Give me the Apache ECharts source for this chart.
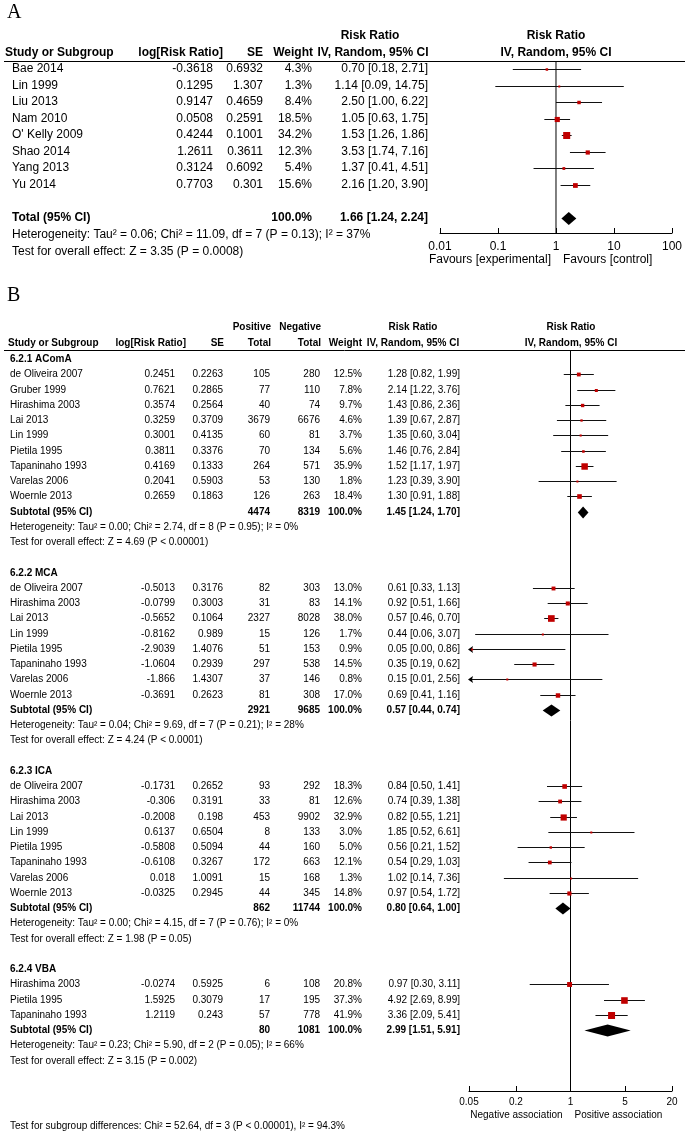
<!DOCTYPE html>
<html><head><meta charset="utf-8">
<script src="https://cdn.jsdelivr.net/npm/echarts/dist/echarts.min.js"></script>
<style>html,body{margin:0;padding:0;background:#fff}#c{width:685px;height:1133px}</style>
</head><body><div id="c"></div>
<script>
// ---------------- Panel A data ----------------
const studiesA = ['Bae 2014','Lin 1999','Liu 2013','Nam 2010',"O' Kelly 2009",'Shao 2014','Yang 2013','Yu 2014'];
const logRRA = [-0.3618,0.1295,0.9147,0.0508,0.4244,1.2611,0.3124,0.7703];
const seA = [0.6932,1.307,0.4659,0.2591,0.1001,0.3611,0.6092,0.301];
const weightA = [4.3,1.3,8.4,18.5,34.2,12.3,5.4,15.6];
const rrA = [0.70,1.14,2.50,1.05,1.53,3.53,1.37,2.16];
const lowA = [0.18,0.09,1.00,0.63,1.26,1.74,0.41,1.20];
const highA = [2.71,14.75,6.22,1.75,1.86,7.16,4.51,3.90];
const totalA = [1.66,1.24,2.24];
const totalWeightA = 100.0;
const statsA = ['Heterogeneity: Tau\u00b2 = 0.06; Chi\u00b2 = 11.09, df = 7 (P = 0.13); I\u00b2 = 37%','Test for overall effect: Z = 3.35 (P = 0.0008)'];
const ticksA = [0.01,0.1,1,10,100];
const favoursA = ['Favours [experimental]','Favours [control]'];

// ---------------- Panel B data ----------------
const groupNames = ['6.2.1 AComA','6.2.2 MCA','6.2.3 ICA','6.2.4 VBA'];

const acomaStudies = ['de Oliveira 2007','Gruber 1999','Hirashima 2003','Lai 2013','Lin 1999','Pietila 1995','Tapaninaho 1993','Varelas 2006','Woernle 2013'];
const acomaLogRR = [0.2451,0.7621,0.3574,0.3259,0.3001,0.3811,0.4169,0.2041,0.2659];
const acomaSE = [0.2263,0.2865,0.2564,0.3709,0.4135,0.3376,0.1333,0.5903,0.1863];
const acomaPos = [105,77,40,3679,60,70,264,53,126];
const acomaNeg = [280,110,74,6676,81,134,571,130,263];
const acomaWeight = [12.5,7.8,9.7,4.6,3.7,5.6,35.9,1.8,18.4];
const acomaRR = [1.28,2.14,1.43,1.39,1.35,1.46,1.52,1.23,1.30];
const acomaLow = [0.82,1.22,0.86,0.67,0.60,0.76,1.17,0.39,0.91];
const acomaHigh = [1.99,3.76,2.36,2.87,3.04,2.84,1.97,3.90,1.88];

const mcaStudies = ['de Oliveira 2007','Hirashima 2003','Lai 2013','Lin 1999','Pietila 1995','Tapaninaho 1993','Varelas 2006','Woernle 2013'];
const mcaLogRR = [-0.5013,-0.0799,-0.5652,-0.8162,-2.9039,-1.0604,-1.866,-0.3691];
const mcaSE = [0.3176,0.3003,0.1064,0.989,1.4076,0.2939,1.4307,0.2623];
const mcaPos = [82,31,2327,15,51,297,37,81];
const mcaNeg = [303,83,8028,126,153,538,146,308];
const mcaWeight = [13.0,14.1,38.0,1.7,0.9,14.5,0.8,17.0];
const mcaRR = [0.61,0.92,0.57,0.44,0.05,0.35,0.15,0.69];
const mcaLow = [0.33,0.51,0.46,0.06,0.00,0.19,0.01,0.41];
const mcaHigh = [1.13,1.66,0.70,3.07,0.86,0.62,2.56,1.16];

const icaStudies = ['de Oliveira 2007','Hirashima 2003','Lai 2013','Lin 1999','Pietila 1995','Tapaninaho 1993','Varelas 2006','Woernle 2013'];
const icaLogRR = [-0.1731,-0.306,-0.2008,0.6137,-0.5808,-0.6108,0.018,-0.0325];
const icaSE = [0.2652,0.3191,0.198,0.6504,0.5094,0.3267,1.0091,0.2945];
const icaPos = [93,33,453,8,44,172,15,44];
const icaNeg = [292,81,9902,133,160,663,168,345];
const icaWeight = [18.3,12.6,32.9,3.0,5.0,12.1,1.3,14.8];
const icaRR = [0.84,0.74,0.82,1.85,0.56,0.54,1.02,0.97];
const icaLow = [0.50,0.39,0.55,0.52,0.21,0.29,0.14,0.54];
const icaHigh = [1.41,1.38,1.21,6.61,1.52,1.03,7.36,1.72];

const vbaStudies = ['Hirashima 2003','Pietila 1995','Tapaninaho 1993'];
const vbaLogRR = [-0.0274,1.5925,1.2119];
const vbaSE = [0.5925,0.3079,0.243];
const vbaPos = [6,17,57];
const vbaNeg = [108,195,778];
const vbaWeight = [20.8,37.3,41.9];
const vbaRR = [0.97,4.92,3.36];
const vbaLow = [0.30,2.69,2.09];
const vbaHigh = [3.11,8.99,5.41];

const subPos = [4474,2921,862,80];
const subNeg = [8319,9685,11744,1081];
const subRR = [1.45,0.57,0.80,2.99];
const subLow = [1.24,0.44,0.64,1.51];
const subHigh = [1.70,0.74,1.00,5.91];
const hetB = [
  'Heterogeneity: Tau\u00b2 = 0.00; Chi\u00b2 = 2.74, df = 8 (P = 0.95); I\u00b2 = 0%',
  'Heterogeneity: Tau\u00b2 = 0.04; Chi\u00b2 = 9.69, df = 7 (P = 0.21); I\u00b2 = 28%',
  'Heterogeneity: Tau\u00b2 = 0.00; Chi\u00b2 = 4.15, df = 7 (P = 0.76); I\u00b2 = 0%',
  'Heterogeneity: Tau\u00b2 = 0.23; Chi\u00b2 = 5.90, df = 2 (P = 0.05); I\u00b2 = 66%'];
const testB = ['Test for overall effect: Z = 4.69 (P < 0.00001)','Test for overall effect: Z = 4.24 (P < 0.0001)',
  'Test for overall effect: Z = 1.98 (P = 0.05)','Test for overall effect: Z = 3.15 (P = 0.002)'];
const subgroupDiff = 'Test for subgroup differences: Chi\u00b2 = 52.64, df = 3 (P < 0.00001), I\u00b2 = 94.3%';
const ticksB = [0.05,0.2,1,5,20];
const assocB = ['Negative association','Positive association'];

// ---------------- layout ----------------
const FONT = '"Liberation Sans", Arial, sans-serif';
const RED = '#C00000';
const A_ROW0 = 69, A_ROWH = 16.5;
const B_ROW0 = 359, B_ROWH = 15.25;
const fA = {left:440, width:232, top:61, bottom:233};
const fB = {left:469, width:203, top:350, bottom:1091};
const fAcenter = fA.left + fA.width/2, fBcenter = fB.left + fB.width/2;

const fmt2 = v => v.toFixed(2);
const ci = (r,l,h) => fmt2(r)+' ['+fmt2(l)+', '+fmt2(h)+']';
const pct = w => w.toFixed(1)+'%';

// ---- Panel A text items ----
const textA = [];
textA.push({x:370,row:-2,t:'Risk Ratio',a:'center',b:1});
textA.push({x:fAcenter,row:-2,t:'Risk Ratio',a:'center',b:1});
textA.push({x:5,row:-1,t:'Study or Subgroup',a:'left',b:1});
textA.push({x:223,row:-1,t:'log[Risk Ratio]',a:'right',b:1});
textA.push({x:263,row:-1,t:'SE',a:'right',b:1});
textA.push({x:313,row:-1,t:'Weight',a:'right',b:1});
textA.push({x:373,row:-1,t:'IV, Random, 95% CI',a:'center',b:1});
textA.push({x:fAcenter,row:-1,t:'IV, Random, 95% CI',a:'center',b:1});
studiesA.forEach((s,i)=>{
  textA.push({x:12,row:i,t:s,a:'left'});
  textA.push({x:213,row:i,t:String(logRRA[i]),a:'right'});
  textA.push({x:263,row:i,t:String(seA[i]),a:'right'});
  textA.push({x:312,row:i,t:pct(weightA[i]),a:'right'});
  textA.push({x:428,row:i,t:ci(rrA[i],lowA[i],highA[i]),a:'right'});
});
const totRowA = studiesA.length + 1;
textA.push({x:12,row:totRowA,t:'Total (95% CI)',a:'left',b:1});
textA.push({x:312,row:totRowA,t:pct(totalWeightA),a:'right',b:1});
textA.push({x:428,row:totRowA,t:ci(totalA[0],totalA[1],totalA[2]),a:'right',b:1});
textA.push({x:12,row:totRowA+1.05,t:statsA[0],a:'left'});
textA.push({x:12,row:totRowA+2.1,t:statsA[1],a:'left'});

// forest items A
const forA = studiesA.map((s,i)=>({row:i, est:logRRA[i]/Math.LN10, lo:Math.log10(lowA[i]), hi:Math.log10(highA[i]), w:weightA[i], d:0}));
forA.push({row:totRowA, est:Math.log10(totalA[0]), lo:Math.log10(totalA[1]), hi:Math.log10(totalA[2]), w:0, d:1});

// ---- Panel B ----
const groups = [
  {s:acomaStudies,l:acomaLogRR,se:acomaSE,p:acomaPos,n:acomaNeg,w:acomaWeight,r:acomaRR,lo:acomaLow,hi:acomaHigh},
  {s:mcaStudies,l:mcaLogRR,se:mcaSE,p:mcaPos,n:mcaNeg,w:mcaWeight,r:mcaRR,lo:mcaLow,hi:mcaHigh},
  {s:icaStudies,l:icaLogRR,se:icaSE,p:icaPos,n:icaNeg,w:icaWeight,r:icaRR,lo:icaLow,hi:icaHigh},
  {s:vbaStudies,l:vbaLogRR,se:vbaSE,p:vbaPos,n:vbaNeg,w:vbaWeight,r:vbaRR,lo:vbaLow,hi:vbaHigh}
];
const textB = [];
const h1 = -2.1, h2 = -1.05;
textB.push({x:271,row:h1,t:'Positive',a:'right',b:1});
textB.push({x:321,row:h1,t:'Negative',a:'right',b:1});
textB.push({x:413,row:h1,t:'Risk Ratio',a:'center',b:1});
textB.push({x:fBcenter,row:h1,t:'Risk Ratio',a:'center',b:1});
textB.push({x:8,row:h2,t:'Study or Subgroup',a:'left',b:1});
textB.push({x:186,row:h2,t:'log[Risk Ratio]',a:'right',b:1});
textB.push({x:224,row:h2,t:'SE',a:'right',b:1});
textB.push({x:271,row:h2,t:'Total',a:'right',b:1});
textB.push({x:321,row:h2,t:'Total',a:'right',b:1});
textB.push({x:362,row:h2,t:'Weight',a:'right',b:1});
textB.push({x:413,row:h2,t:'IV, Random, 95% CI',a:'center',b:1});
textB.push({x:fBcenter,row:h2,t:'IV, Random, 95% CI',a:'center',b:1});
const forB = [];
let r = 0;
groups.forEach((g,gi)=>{
  textB.push({x:10,row:r,t:groupNames[gi],a:'left',b:1});
  g.s.forEach((s,i)=>{
    const rr = r+1+i;
    textB.push({x:10,row:rr,t:s,a:'left'});
    textB.push({x:175,row:rr,t:String(g.l[i]),a:'right'});
    textB.push({x:223,row:rr,t:String(g.se[i]),a:'right'});
    textB.push({x:270,row:rr,t:String(g.p[i]),a:'right'});
    textB.push({x:320,row:rr,t:String(g.n[i]),a:'right'});
    textB.push({x:362,row:rr,t:pct(g.w[i]),a:'right'});
    textB.push({x:460,row:rr,t:ci(g.r[i],g.lo[i],g.hi[i]),a:'right'});
    forB.push({row:rr, est:g.l[i]/Math.LN10, lo:g.lo[i]>0?Math.log10(g.lo[i]):-99, hi:Math.log10(g.hi[i]), w:g.w[i], d:0});
  });
  const sr = r+g.s.length+1;
  textB.push({x:10,row:sr,t:'Subtotal (95% CI)',a:'left',b:1});
  textB.push({x:270,row:sr,t:String(subPos[gi]),a:'right',b:1});
  textB.push({x:320,row:sr,t:String(subNeg[gi]),a:'right',b:1});
  textB.push({x:362,row:sr,t:pct(100),a:'right',b:1});
  textB.push({x:460,row:sr,t:ci(subRR[gi],subLow[gi],subHigh[gi]),a:'right',b:1});
  forB.push({row:sr, est:Math.log10(subRR[gi]), lo:Math.log10(subLow[gi]), hi:Math.log10(subHigh[gi]), w:0, d:1});
  textB.push({x:10,row:sr+1,t:hetB[gi],a:'left'});
  textB.push({x:10,row:sr+2,t:testB[gi],a:'left'});
  r += g.s.length + 5;
});
textB.push({x:10,row:50.3,t:subgroupDiff,a:'left'});

// ---------------- series builders ----------------
function textSeries(gi, items, size) {
  return {type:'custom', xAxisIndex:gi, yAxisIndex:gi, silent:true, clip:false, z:5,
    data: items.map((it,i)=>[it.x,it.row,i]), encode:{x:0,y:1},
    renderItem:(params, api)=>{
      const it = items[api.value(2)];
      const p = api.coord([api.value(0), api.value(1)]);
      return {type:'text', x:Math.round(p[0]), y:Math.round(p[1]),
        style:{text:it.t, fill:'#000', font:(it.b?'bold ':'')+size+'px '+FONT, align:it.a, verticalAlign:'middle'}};
    }};
}
function forestSeries(gi, items, k, xmin, xmax, dh) {
  return {type:'custom', xAxisIndex:gi, yAxisIndex:gi, silent:true, clip:false, z:4,
    data: items.map(it=>[it.est, it.row, it.lo, it.hi, it.w, it.d]), encode:{x:0,y:1},
    renderItem:(params, api)=>{
      const est=api.value(0), row=api.value(1), lo=api.value(2), hi=api.value(3), w=api.value(4), d=api.value(5);
      const c = api.coord([est,row]);
      const y = Math.round(c[1]) + 0.5;
      const l = api.coord([Math.max(lo,xmin),row])[0];
      const h = api.coord([Math.min(hi,xmax),row])[0];
      if (d) {
        return {type:'polygon', shape:{points:[[l,y],[c[0],y-dh],[h,y],[c[0],y+dh]]}, style:{fill:'#000'}};
      }
      const ch = [{type:'line', shape:{x1:l,y1:y,x2:h,y2:y}, style:{stroke:'#111',lineWidth:1}}];
      if (lo < xmin) ch.push({type:'polygon', shape:{points:[[l-1,y],[l+4,y-3.5],[l+3,y],[l+4,y+3.5]]}, style:{fill:'#000'}});
      if (hi > xmax) ch.push({type:'polygon', shape:{points:[[h+1,y],[h-4,y-3.5],[h-3,y],[h-4,y+3.5]]}, style:{fill:'#000'}});
      const s = Math.max(2, k*Math.sqrt(w));
      ch.push({type:'rect', shape:{x:c[0]-s/2, y:y-s/2, width:s, height:s}, style:{fill:RED}});
      return {type:'group', children:ch};
    }};
}
function labelSeries(gi, texts, yv, dy, gap, size) {
  return {type:'custom', xAxisIndex:gi, yAxisIndex:gi, silent:true, clip:false,
    data:[[0,yv]], encode:{x:0,y:1},
    renderItem:(params, api)=>{
      const p = api.coord([0, yv]);
      return {type:'group', children:[
        {type:'text', x:p[0]-gap[0], y:p[1]+dy, style:{text:texts[0], fill:'#000', font:size+'px '+FONT, align:'right', verticalAlign:'middle'}},
        {type:'text', x:p[0]+gap[1], y:p[1]+dy, style:{text:texts[1], fill:'#000', font:size+'px '+FONT, align:'left', verticalAlign:'middle'}}
      ]};
    }};
}
function forestXAxis(gi, ticks, size, margin) {
  const lv = ticks.map(Math.log10);
  return {gridIndex:gi, type:'value', min:lv[0], max:lv[lv.length-1], position:'bottom',
    axisLine:{show:true, onZero:false, lineStyle:{color:'#000', width:1}},
    axisTick:{show:true, inside:true, length:5, customValues:lv, lineStyle:{color:'#000', width:1}},
    axisLabel:{show:true, customValues:lv, color:'#000', fontSize:size, fontFamily:FONT, margin:margin,
      formatter:v=>{let b=0;lv.forEach((t,i)=>{if(Math.abs(t-v)<Math.abs(lv[b]-v))b=i;});return String(ticks[b]);}},
    splitLine:{show:false}};
}
const hideX = gi => ({gridIndex:gi, type:'value', min:0, max:685, show:false});
const hideY = (gi,mn,mx) => ({gridIndex:gi, type:'value', min:mn, max:mx, inverse:true, show:false});

const yAmin = -3, yAmax = 12;
const yFAmin = (fA.top-A_ROW0)/A_ROWH, yFAmax = (fA.bottom-A_ROW0)/A_ROWH;
const yBmin = -3, yBmax = 50.6;
const yFBmin = (fB.top-B_ROW0)/B_ROWH, yFBmax = (fB.bottom-B_ROW0)/B_ROWH;

const option = {
  animation:false,
  backgroundColor:'#fff',
  grid:[
    {left:0, width:685, top:A_ROW0+yAmin*A_ROWH, height:(yAmax-yAmin)*A_ROWH},
    {left:fA.left, width:fA.width, top:fA.top, height:fA.bottom-fA.top},
    {left:0, width:685, top:B_ROW0+yBmin*B_ROWH, height:(yBmax-yBmin)*B_ROWH},
    {left:fB.left, width:fB.width, top:fB.top, height:fB.bottom-fB.top}
  ],
  xAxis:[hideX(0), forestXAxis(1, ticksA, 12, 8), hideX(2), forestXAxis(3, ticksB, 10, 6)],
  yAxis:[hideY(0,yAmin,yAmax), hideY(1,yFAmin,yFAmax), hideY(2,yBmin,yBmax), hideY(3,yFBmin,yFBmax)],
  series:[
    textSeries(0, textA, 12),
    {type:'line', xAxisIndex:1, yAxisIndex:1, data:[[0,yFAmin],[0,yFAmax]], symbol:'none', silent:true, lineStyle:{color:'#000', width:1}, z:3},
    forestSeries(1, forA, 1.2, -2, 2, 6.5),
    labelSeries(1, favoursA, yFAmax, 27, [5,7], 12),
    textSeries(2, textB, 10),
    {type:'line', xAxisIndex:3, yAxisIndex:3, data:[[0,yFBmin],[0,yFBmax]], symbol:'none', silent:true, lineStyle:{color:'#000', width:1}, z:3},
    forestSeries(3, forB, 1.08, Math.log10(ticksB[0]), Math.log10(ticksB[4]), 6),
    labelSeries(3, assocB, yFBmax, 24, [8,4], 10)
  ],
  graphic:[
    {type:'text', left:7, top:3, style:{text:'A', font:'20px "Liberation Serif", "Times New Roman", serif', fill:'#000'}},
    {type:'text', left:7, top:286, style:{text:'B', font:'20px "Liberation Serif", "Times New Roman", serif', fill:'#000'}},
    {type:'line', shape:{x1:4, y1:61.5, x2:685, y2:61.5}, style:{stroke:'#000', lineWidth:1}},
    {type:'line', shape:{x1:4, y1:350.5, x2:685, y2:350.5}, style:{stroke:'#000', lineWidth:1}}
  ]
};
const chart = echarts.init(document.getElementById('c'), null, {renderer:'canvas'});
chart.setOption(option);
</script>
</body></html>
